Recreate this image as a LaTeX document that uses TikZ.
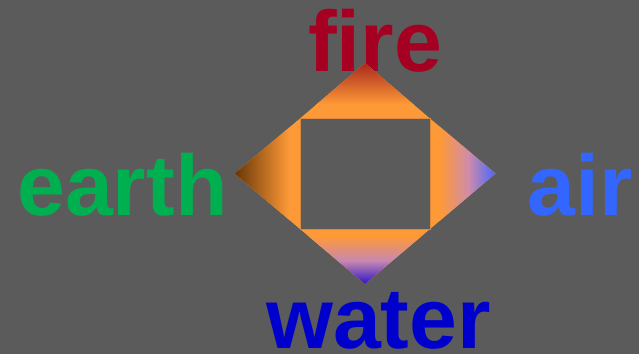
\documentclass[tikz,border=0pt]{standalone}
\usepackage{fontspec}
\setmainfont{Liberation Sans}
\definecolor{bg}{HTML}{5B5B5B}
\definecolor{orng}{HTML}{FD9937}
\definecolor{firec}{HTML}{A50021}
\definecolor{earthc}{HTML}{00B050}
\definecolor{airc}{HTML}{3366FF}
\definecolor{waterc}{HTML}{0000CC}
\definecolor{topc}{HTML}{A8261C}
\definecolor{leftc}{HTML}{653506}
\definecolor{rightc}{HTML}{4466FF}
\definecolor{botc}{HTML}{2810C8}
\definecolor{midr}{HTML}{D08CA8}
\definecolor{midb}{HTML}{C888B0}
\definecolor{rimc}{HTML}{DC8A3E}
\begin{document}
\begin{tikzpicture}[x=1pt,y=-1pt,
  lbl/.style={inner sep=0pt, anchor=base, font=\fontsize{86}{86}\selectfont\bfseries}]
\fill[bg] (0,0) rectangle (639,354);
\useasboundingbox (0,0) rectangle (639,354);
% labels
\node[lbl, text=firec]  (fire)  at (375,71.5) {fire};
\node[lbl, text=earthc] (earth) at (122.5,215.5) {earth};
\node[lbl, text=airc]   (air)   at (580.5,215.5) {air};
\node[lbl, text=waterc] (water) at (378.5,348) {water};
% diamond vertices and inner corners
\coordinate (T) at (365,63);
\coordinate (L) at (234.5,173.5);
\coordinate (R) at (495.5,173.5);
\coordinate (B) at (365,284);
\coordinate (TL) at (300,118.5);
\coordinate (TR) at (430,118.5);
\coordinate (BL) at (300,229);
\coordinate (BR) at (430,229);
% top triangle
\fill[orng] (T) -- (TR) -- (TL) -- cycle;
\begin{scope}
  \clip (T) -- (TR) -- (TL) -- cycle;
  \shade[top color=topc, bottom color=orng] (290,62) rectangle (440,104);
\end{scope}
% left triangle
\fill[orng] (L) -- (TL) -- (BL) -- cycle;
\begin{scope}
  \clip (L) -- (TL) -- (BL) -- cycle;
  \shade[left color=leftc, right color=orng] (234,110) rectangle (289,235);
\end{scope}
% right triangle
\fill[orng] (R) -- (BR) -- (TR) -- cycle;
\begin{scope}
  \clip (R) -- (BR) -- (TR) -- cycle;
  \shade[left color=orng, right color=rightc, middle color=midr] (440,110) rectangle (496,235);
\end{scope}
% bottom triangle
\fill[orng] (B) -- (BL) -- (BR) -- cycle;
\begin{scope}
  \clip (B) -- (BL) -- (BR) -- cycle;
  \shade[top color=orng, bottom color=botc, middle color=midb] (290,236) rectangle (440,285);
\end{scope}
% inner rim
\draw[rimc, line width=0.8pt] (TL) -- (TR) -- (BR) -- (BL) -- cycle;
\end{tikzpicture}
\end{document}
